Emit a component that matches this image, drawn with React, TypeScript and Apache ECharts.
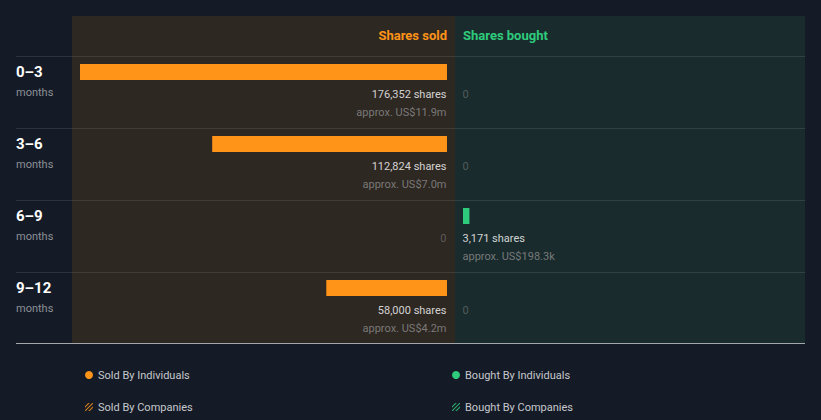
import React, { useEffect, useRef } from "react";
import * as echarts from "echarts";

// ---- data ----
const categories = ["0–3", "3–6", "6–9", "9–12"];
const periodUnit = "months";
const soldShares = [176352, 112824, 0, 58000];
const boughtShares = [0, 0, 3171, 0];
const soldValueUSD = [11.9e6, 7.0e6, 0, 4.2e6];
const boughtValueUSD = [0, 0, 198.3e3, 0];
const headerSold = "Shares sold";
const headerBought = "Shares bought";
const legendSoldInd = "Sold By Individuals";
const legendSoldCo = "Sold By Companies";
const legendBoughtInd = "Bought By Individuals";
const legendBoughtCo = "Bought By Companies";

const ORANGE = "#ff9418";
const GREEN = "#2fcb7d";
const BG = "#151b26";
const FONT = "Roboto, 'Noto Sans', sans-serif";

const hatchIcon =
  "path://M0,4 L4,0 L6,0 L0,6 Z M0,9 L9,0 L10,0 L10,1 L1,10 L0,10 Z M4,10 L10,4 L10,6 L6,10 Z";

const maxShares = Math.max(...soldShares, ...boughtShares);

function fmtUsd(v: number) {
  if (v >= 1e6) return (v / 1e6).toFixed(1) + "m";
  return (v / 1e3).toFixed(1) + "k";
}

function labelText(shares: number, usd: number) {
  if (shares === 0) return "{z|0}";
  return `{s|${shares.toLocaleString("en-US")} shares}\n{p|approx. US$${fmtUsd(usd)}}`;
}

const labelRich = {
  s: { color: "#ffffff", fontSize: 11, lineHeight: 18, fontFamily: FONT },
  p: { color: "#8f8f8f", fontSize: 11, lineHeight: 18, fontFamily: FONT },
  z: { color: "rgba(255,255,255,0.3)", fontSize: 11, lineHeight: 18, fontFamily: FONT },
};

function buildOption() {
  const lineYs = [56.5, 128.5, 200.5, 272.5];
  const graphics: any[] = [
    { type: "rect", z: -10, shape: { x: 72, y: 16, width: 383, height: 327 }, style: { fill: "#2e2823" } },
    { type: "rect", z: -10, shape: { x: 455, y: 16, width: 350, height: 327 }, style: { fill: "#1a2b2d" } },
    ...lineYs.map((y) => ({
      type: "line",
      z: -5,
      shape: { x1: 16, y1: y, x2: 805, y2: y },
      style: { stroke: "rgba(255,255,255,0.1)", lineWidth: 1 },
    })),
    {
      type: "line",
      z: -5,
      shape: { x1: 16, y1: 343.5, x2: 805, y2: 343.5 },
      style: { stroke: "#a3a6ab", lineWidth: 1 },
    },
    {
      type: "text",
      x: 447,
      y: 35,
      style: {
        text: headerSold,
        fill: ORANGE,
        font: `bold 13px ${FONT}`,
        textAlign: "right",
        textVerticalAlign: "middle",
      },
    },
    {
      type: "text",
      x: 463,
      y: 35,
      style: {
        text: headerBought,
        fill: GREEN,
        font: `bold 13px ${FONT}`,
        textAlign: "left",
        textVerticalAlign: "middle",
      },
    },
  ];

  const legendBase = {
    orient: "vertical",
    padding: 0,
    itemWidth: 8,
    itemHeight: 8,
    selectedMode: false,
    textStyle: { color: "#c5c8cd", fontSize: 11, fontFamily: FONT, lineHeight: 14 },
  };

  return {
    animation: false,
    backgroundColor: BG,
    textStyle: { fontFamily: FONT },
    graphic: graphics,
    legend: [
      { ...legendBase, left: 85, top: 368, data: [{ name: legendSoldInd, icon: "circle" }] },
      { ...legendBase, left: 85, top: 400, data: [{ name: legendSoldCo, icon: hatchIcon }] },
      { ...legendBase, left: 452, top: 368, data: [{ name: legendBoughtInd, icon: "circle" }] },
      { ...legendBase, left: 452, top: 400, data: [{ name: legendBoughtCo, icon: hatchIcon }] },
    ],
    grid: [
      { left: 80, width: 367, top: 36, height: 288 },
      { left: 463, width: 367, top: 36, height: 288 },
    ],
    xAxis: [
      { gridIndex: 0, type: "value", inverse: true, min: 0, max: maxShares, show: false },
      { gridIndex: 1, type: "value", min: 0, max: maxShares, show: false },
    ],
    yAxis: [
      {
        gridIndex: 0,
        type: "category",
        data: categories,
        inverse: true,
        axisLine: { show: false },
        axisTick: { show: false },
        splitLine: { show: false },
        axisLabel: {
          align: "left",
          margin: 64,
          padding: [20, 0, 0, 0],
          formatter: (v: string) => `{a|${v}}\n{b|${periodUnit}}`,
          rich: {
            a: { color: "#ffffff", fontSize: 15, fontWeight: "bold", lineHeight: 20, fontFamily: FONT },
            b: { color: "#8c9097", fontSize: 11, lineHeight: 20, fontFamily: FONT },
          },
        },
      },
      {
        gridIndex: 1,
        type: "category",
        data: categories,
        inverse: true,
        show: false,
      },
    ],
    series: [
      {
        name: legendSoldInd,
        type: "bar",
        xAxisIndex: 0,
        yAxisIndex: 0,
        data: soldShares,
        barWidth: 16,
        itemStyle: { color: ORANGE },
        silent: true,
      },
      {
        name: legendBoughtInd,
        type: "bar",
        xAxisIndex: 1,
        yAxisIndex: 1,
        data: boughtShares,
        barWidth: 16,
        itemStyle: { color: GREEN },
        silent: true,
      },
      {
        name: legendSoldCo,
        type: "scatter",
        xAxisIndex: 0,
        yAxisIndex: 0,
        data: [],
        itemStyle: { color: ORANGE },
      },
      {
        name: legendBoughtCo,
        type: "scatter",
        xAxisIndex: 1,
        yAxisIndex: 1,
        data: [],
        itemStyle: { color: GREEN },
      },
      {
        name: "soldLabels",
        type: "scatter",
        xAxisIndex: 0,
        yAxisIndex: 0,
        symbolSize: 1,
        silent: true,
        itemStyle: { color: "transparent" },
        data: categories.map((c) => [0, c]),
        label: {
          show: true,
          position: [0, 14],
          align: "right",
          verticalAlign: "top",
          formatter: (p: any) => labelText(soldShares[p.dataIndex], soldValueUSD[p.dataIndex]),
          rich: labelRich,
        },
      },
      {
        name: "boughtLabels",
        type: "scatter",
        xAxisIndex: 1,
        yAxisIndex: 1,
        symbolSize: 1,
        silent: true,
        itemStyle: { color: "transparent" },
        data: categories.map((c) => [0, c]),
        label: {
          show: true,
          position: [0, 14],
          align: "left",
          verticalAlign: "top",
          formatter: (p: any) => labelText(boughtShares[p.dataIndex], boughtValueUSD[p.dataIndex]),
          rich: labelRich,
        },
      },
    ],
  };
}

export default function App() {
  const ref = useRef<HTMLDivElement>(null);
  useEffect(() => {
    const chart = echarts.init(ref.current!, null, { renderer: "svg" });
    chart.setOption(buildOption() as any);
    return () => chart.dispose();
  }, []);
  return (
    <div
      ref={ref}
      style={{ position: "fixed", left: 0, top: 0, width: 821, height: 420 }}
    />
  );
}
